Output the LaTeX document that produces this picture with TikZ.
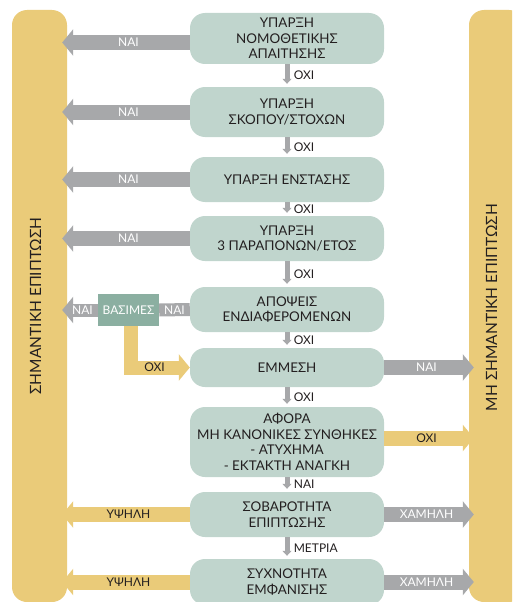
\documentclass[tikz,border=0pt]{standalone}
\usepackage{fontspec}
\setmainfont{Lato}
\usetikzlibrary{arrows.meta}
\definecolor{bar}{HTML}{EACB79}
\definecolor{box}{HTML}{C0D5CD}
\definecolor{dbox}{HTML}{8BAFA1}
\definecolor{arr}{HTML}{A7A8AA}
\definecolor{ink}{HTML}{231F20}
\tikzset{
    stage/.style={fill=box, rounded corners=15pt, minimum width=194pt, inner ysep=2pt, align=center, text=ink, font=\fontsize{13.4}{15.5}\selectfont},
    side/.style={fill=bar, rounded corners=15pt, minimum width=55pt, minimum height=592pt},
    garrow/.style={draw=arr, line width=15pt, -{Triangle[length=11pt,width=26pt]}},
    yarrow/.style={draw=bar, line width=15pt, -{Triangle[length=11pt,width=26pt]}},
    tobar/.style={shorten >=-5pt},
    flow/.style={draw=arr, line width=5pt, -{Triangle[length=5pt,width=9pt]}, shorten >=3pt},
    wlbl/.style={text=white, font=\fontsize{12}{14}\selectfont},
    dlbl/.style={text=ink, font=\fontsize{12}{14}\selectfont}
}
\begin{document}
\begin{tikzpicture}[x=1pt,y=-1pt]
        \clip (0,0) rectangle (512,602);
        \node[side] (lbar) at (39.5,306) {};
        \node[side] (rbar) at (496.5,306) {};
        \node[rotate=90, text=ink, font=\fontsize{15.5}{18}\selectfont, yshift=4pt] at (lbar) {ΣΗΜΑΝΤΙΚΗ ΕΠΙΠΤΩΣΗ};
        \node[rotate=90, text=ink, font=\fontsize{15.5}{18}\selectfont, yshift=5pt, xshift=-1.5pt] at (rbar) {ΜΗ ΣΗΜΑΝΤΙΚΗ ΕΠΙΠΤΩΣΗ};

        \node[stage, minimum height=51pt] (b1) at (287,38.5) {ΥΠΑΡΞΗ\\ΝΟΜΟΘΕΤΙΚΗΣ\\ΑΠΑΙΤΗΣΗΣ};
        \node[stage, minimum height=50pt] (b2) at (287,112) {ΥΠΑΡΞΗ\\ΣΚΟΠΟΥ/ΣΤΟΧΩΝ};
        \node[stage, minimum height=45pt] (b3) at (287,179.5) {ΥΠΑΡΞΗ ΕΝΣΤΑΣΗΣ};
        \node[stage, minimum height=45pt] (b4) at (287,238.5) {ΥΠΑΡΞΗ\\3 ΠΑΡΑΠΟΝΩΝ/ΕΤΟΣ};
        \node[stage, minimum height=45pt] (b5) at (287,309.5) {ΑΠΟΨΕΙΣ\\ΕΝΔΙΑΦΕΡΟΜΕΝΩΝ};
        \node[stage, minimum height=39pt] (b6) at (287,367.5) {ΕΜΜΕΣΗ};
        \node[stage, minimum height=70pt] (b7) at (287,442) {ΑΦΟΡΑ\\ΜΗ ΚΑΝΟΝΙΚΕΣ ΣΥΝΘΗΚΕΣ\\- ΑΤΥΧΗΜΑ\\- ΕΚΤΑΚΤΗ ΑΝΑΓΚΗ};
        \node[stage, minimum height=45pt] (b8) at (287,514.5) {ΣΟΒΑΡΟΤΗΤΑ\\ΕΠΙΠΤΩΣΗΣ};
        \node[stage, minimum height=46pt] (b9) at (287,582) {ΣΥΧΝΟΤΗΤΑ\\ΕΜΦΑΝΙΣΗΣ};
        \node[fill=dbox, minimum width=61pt, minimum height=32pt, inner xsep=2pt, wlbl] (val) at (128.5,310) {ΒΑΣΙΜΕΣ};
        \coordinate (b1w) at ([yshift=-4pt]b1.west);
        \coordinate (b7e) at ([yshift=4pt]b7.east);

        \draw[flow] (b1) -- (b2) node[midway, right, dlbl, xshift=1pt] {ΟΧΙ};
        \draw[flow] (b2) -- (b3) node[midway, right, dlbl, xshift=1pt] {ΟΧΙ};
        \draw[flow] (b3) -- (b4) node[midway, right, dlbl, xshift=1pt] {ΟΧΙ};
        \draw[flow] (b4) -- (b5) node[midway, right, dlbl, xshift=1pt] {ΟΧΙ};
        \draw[flow] (b5) -- (b6) node[midway, right, dlbl, xshift=1pt] {ΟΧΙ};
        \draw[flow] (b6) -- (b7) node[midway, right, dlbl, xshift=1pt] {ΟΧΙ};
        \draw[flow] (b7) -- (b8) node[midway, right, dlbl, xshift=1pt] {ΝΑΙ};
        \draw[flow] (b8) -- (b9) node[midway, right, dlbl, xshift=1pt] {ΜΕΤΡΙΑ};

        \draw[garrow, tobar] (b1w) -- (lbar.east |- b1w) node[midway, wlbl] {ΝΑΙ};
        \draw[garrow, tobar] (b2.west) -- (lbar.east |- b2.west) node[midway, wlbl] {ΝΑΙ};
        \draw[garrow, tobar] (b3.west) -- (lbar.east |- b3.west) node[midway, wlbl] {ΝΑΙ};
        \draw[garrow, tobar] (b4.west) -- (lbar.east |- b4.west) node[midway, wlbl] {ΝΑΙ};
        \draw[draw=arr, line width=13pt] (b5.west) -- (val.east) node[midway, wlbl] {ΝΑΙ};
        \draw[garrow, tobar, line width=13pt] (val.west) -- (lbar.east |- val.west) node[midway, wlbl] {ΝΑΙ};
        \draw[yarrow, line width=14pt] ([xshift=2.5pt]val.south) |- (b6.west) node[pos=0.7, dlbl] {ΟΧΙ};
        \draw[garrow, tobar] (b6.east) -- (rbar.west |- b6.east) node[midway, wlbl] {ΝΑΙ};
        \draw[yarrow, tobar] (b7e) -- (rbar.west |- b7e) node[midway, dlbl] {ΟΧΙ};
        \draw[yarrow, tobar] (b8.west) -- (lbar.east |- b8.west) node[midway, dlbl] {ΥΨΗΛΗ};
        \draw[garrow, tobar] (b8.east) -- (rbar.west |- b8.east) node[midway, wlbl] {ΧΑΜΗΛΗ};
        \draw[yarrow, tobar] (b9.west) -- (lbar.east |- b9.west) node[midway, dlbl] {ΥΨΗΛΗ};
        \draw[garrow, tobar] (b9.east) -- (rbar.west |- b9.east) node[midway, wlbl] {ΧΑΜΗΛΗ};
\end{tikzpicture}
\end{document}
